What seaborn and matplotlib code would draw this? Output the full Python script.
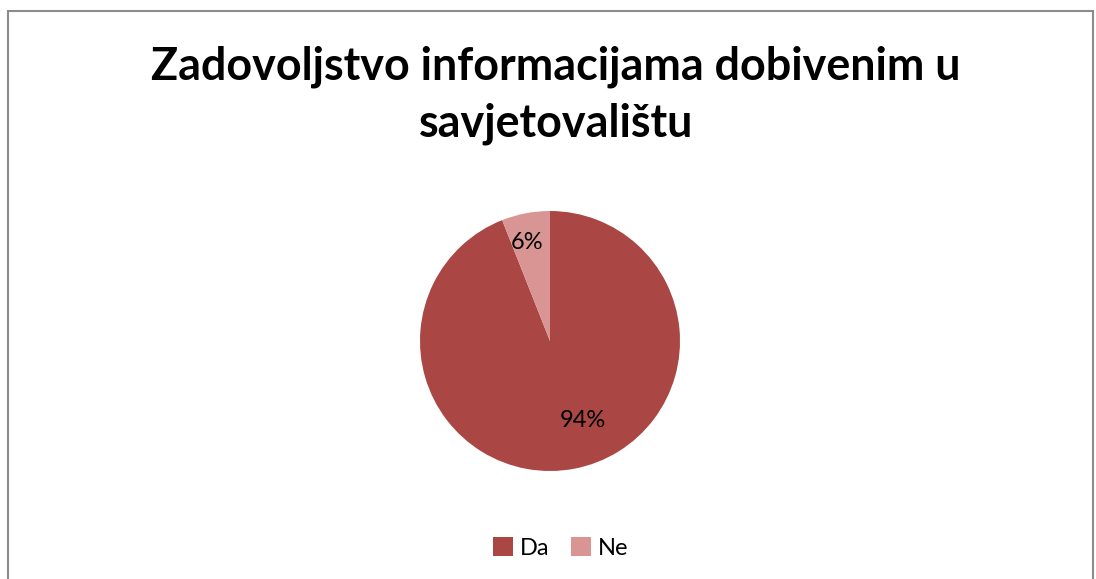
import matplotlib
matplotlib.use("Agg")
import matplotlib.pyplot as plt
from matplotlib.patches import Rectangle
import seaborn as sns

labels = ["Da", "Ne"]
shares = [94, 6]
colors = ["#AA4744", "#D89594"]
title = "Zadovoljstvo informacijama dobivenim u\nsavjetovalištu"

sns.set_style("white")
plt.rcParams["font.family"] = ["Lato", "DejaVu Sans"]

fig = plt.figure(figsize=(10.96, 5.79), dpi=100)

# outer chart border
fig.patches.append(Rectangle((8 / 1096, -0.02), 1085 / 1096, 1.02 - 11 / 579,
                             transform=fig.transFigure, fill=False,
                             edgecolor="#8c8c8c", linewidth=1.5))

fig.text(0.507, 1 - 95 / 579, title, ha="center", va="center", color="black",
         fontsize=32.3, fontweight="bold", linespacing=1.44)

ax = fig.add_axes([420 / 1096, (579 - 471) / 579, 260 / 1096, 260 / 579])
wedges, texts, autotexts = ax.pie(shares, colors=colors, startangle=90,
                                  counterclock=False, autopct="%d%%",
                                  wedgeprops={"linewidth": 0},
                                  textprops={"fontsize": 17, "color": "black"})
autotexts[0].set_position((0.254, -0.615))
autotexts[1].set_position((-0.177, 0.754))
ax.set_xlim(-1, 1)
ax.set_ylim(-1, 1)
ax.set_aspect("equal")

fig.legend(wedges, labels, loc="center",
           bbox_to_anchor=(0.5 + 13 / 1096, 1 - 548 / 579),
           ncol=2, frameon=False, fontsize=17, handlelength=0.85,
           handleheight=0.85, handletextpad=0.3, columnspacing=0.9)
for t in fig.legends[0].get_texts():
    t.set_color("black")

fig.savefig("out.png", dpi=100)
